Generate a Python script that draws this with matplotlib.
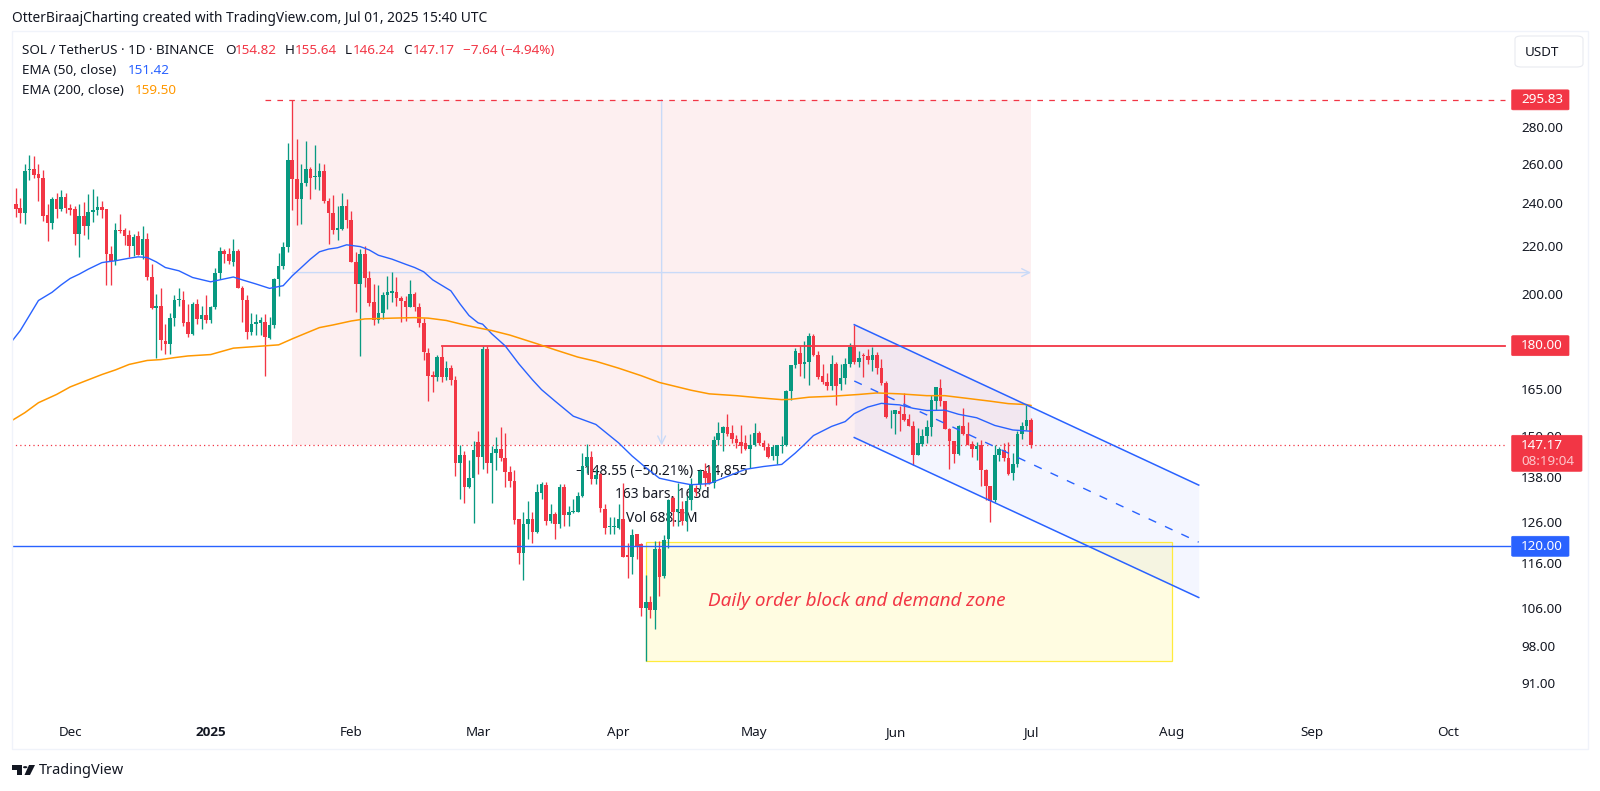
import matplotlib
matplotlib.use('Agg')
import matplotlib.pyplot as plt
from matplotlib.patches import Rectangle, FancyBboxPatch, Polygon, Circle
import numpy as np
import pandas as pd

plt.rcParams['font.family'] = ['Noto Sans', 'DejaVu Sans']

opens = [
    237.4, 239.8, 237.9, 235.4, 256.8, 257.0, 254.9, 252.7, 234.3, 230.6,
    242.0, 237.1, 243.2, 237.6, 237.1, 225.6, 234.0, 229.3, 235.7, 237.0,
    238.1, 237.1, 216.7, 213.7, 227.6, 227.3, 225.0, 220.1, 224.6, 216.1,
    223.2, 206.6, 194.2, 194.9, 181.6, 180.6, 190.4, 197.5, 197.5, 188.7,
    184.4, 195.9, 190.0, 191.6, 189.4, 194.5, 208.4, 218.1, 216.8, 213.3,
    218.1, 202.1, 197.6, 185.2, 188.2, 188.5, 188.7, 182.7, 187.7, 205.9,
    211.3, 219.6, 261.9, 252.3, 242.0, 250.1, 257.3, 253.1, 253.1, 256.4,
    241.0, 235.4, 227.3, 228.0, 238.5, 231.9, 213.2, 203.8, 216.5, 206.3,
    196.5, 189.7, 192.3, 199.4, 200.4, 200.5, 198.2, 196.9, 194.5, 199.7,
    194.8, 188.3, 177.3, 169.5, 168.8, 176.0, 168.8, 172.0, 168.0, 141.9,
    144.4, 135.4, 137.7, 148.2, 143.7, 178.7, 142.1, 144.8, 146.2, 143.4,
    139.5, 137.0, 126.8, 118.4, 125.5, 126.8, 123.4, 133.6, 135.8, 126.3,
    128.1, 125.5, 135.4, 127.8, 128.5, 128.7, 132.9, 141.0, 143.8, 137.4,
    138.8, 129.5, 124.7, 124.8, 124.5, 126.8, 117.8, 117.4, 123.0, 120.5,
    106.0, 107.2, 105.5, 119.4, 113.0, 121.9, 132.3, 128.5, 129.4, 126.3,
    131.9, 134.9, 136.0, 139.8, 139.1, 136.4, 148.7, 150.9, 152.7, 150.9,
    149.2, 148.1, 147.9, 146.2, 147.4, 150.9, 147.9, 146.7, 144.0, 144.0,
    147.1, 147.4, 164.4, 173.0, 177.4, 173.4, 174.0, 183.7, 176.8, 169.2,
    167.2, 165.8, 173.3, 166.7, 168.6, 173.3, 179.6, 174.2, 176.8, 176.3,
    175.0, 176.8, 172.1, 167.0, 156.7, 156.7, 157.7, 156.8, 155.1, 153.1,
    144.4, 147.6, 150.1, 152.6, 161.0, 165.3, 161.0, 152.2, 148.6, 144.7,
    152.9, 150.7, 147.6, 146.2, 147.3, 140.1, 135.5, 131.7, 144.4, 145.9,
    143.5, 139.2, 141.6, 150.6, 153.1, 154.82,
]
highs = [
    240.5, 247.6, 242.7, 259.8, 264.4, 264.0, 259.8, 256.6, 239.5, 243.2,
    245.2, 246.8, 244.9, 239.5, 238.7, 239.5, 240.8, 244.5, 247.1, 243.5,
    241.1, 237.1, 220.2, 230.8, 234.8, 228.5, 227.5, 225.7, 227.0, 229.3,
    226.2, 212.2, 199.8, 202.1, 188.1, 192.3, 199.4, 202.1, 201.1, 195.9,
    196.5, 197.8, 195.2, 199.4, 195.2, 210.5, 219.9, 218.8, 219.1, 223.2,
    218.8, 203.2, 199.4, 192.4, 191.9, 190.9, 191.9, 190.6, 206.2, 217.2,
    222.0, 271.0, 295.83, 273.4, 260.1, 272.1, 258.4, 270.3, 260.5, 260.1,
    242.7, 244.2, 238.7, 244.9, 241.9, 236.3, 217.3, 218.8, 220.2, 209.4,
    203.9, 203.5, 200.8, 207.3, 209.1, 206.6, 198.9, 199.2, 205.5, 200.5,
    196.2, 190.3, 179.1, 170.9, 176.8, 180.0, 174.4, 173.2, 169.2, 147.4,
    145.5, 143.0, 148.4, 151.4, 180.0, 179.7, 146.9, 149.7, 152.7, 150.9,
    141.2, 140.0, 126.8, 128.5, 131.4, 128.5, 136.0, 136.7, 136.7, 130.7,
    128.5, 136.0, 136.0, 130.2, 132.0, 134.0, 145.0, 147.6, 145.5, 140.2,
    139.2, 130.7, 127.2, 127.2, 130.7, 136.3, 120.9, 124.2, 123.0, 120.9,
    113.2, 108.6, 121.3, 121.3, 122.7, 132.1, 132.9, 136.3, 131.6, 132.9,
    137.7, 135.9, 140.2, 142.0, 141.0, 150.1, 154.2, 152.9, 156.9, 153.4,
    150.4, 153.4, 150.4, 150.7, 153.9, 151.4, 148.9, 147.9, 147.4, 147.4,
    149.9, 164.7, 173.0, 179.2, 179.8, 181.6, 184.7, 184.4, 178.0, 173.3,
    170.4, 176.8, 174.1, 173.3, 175.6, 181.0, 187.8, 178.0, 177.4, 178.8,
    179.6, 177.6, 175.2, 167.6, 158.0, 157.9, 159.3, 163.6, 156.9, 154.5,
    152.4, 152.0, 154.9, 162.9, 165.6, 168.4, 161.0, 152.4, 148.6, 153.4,
    158.7, 154.4, 148.4, 148.2, 148.7, 140.3, 135.5, 147.2, 146.7, 147.9,
    148.1, 144.9, 151.4, 154.4, 159.8, 155.64,
]
lows = [
    236.5, 233.6, 230.5, 230.0, 251.5, 252.7, 241.1, 231.6, 222.2, 228.0,
    232.8, 236.3, 235.5, 234.3, 220.5, 215.5, 225.0, 223.2, 231.3, 234.4,
    233.2, 203.5, 203.5, 212.0, 225.9, 220.7, 215.4, 215.8, 216.1, 214.4,
    205.6, 193.9, 175.6, 178.3, 177.1, 176.9, 187.2, 195.2, 187.2, 183.1,
    184.0, 188.1, 186.2, 188.3, 188.3, 193.9, 205.9, 212.9, 212.2, 211.5,
    202.2, 188.7, 182.3, 184.0, 184.0, 184.0, 169.2, 182.3, 186.5, 198.9,
    210.2, 217.7, 237.0, 229.6, 230.0, 248.5, 242.2, 247.3, 246.5, 240.3,
    221.0, 225.4, 222.9, 227.5, 228.5, 213.0, 192.6, 176.3, 202.5, 195.2,
    187.8, 188.5, 190.0, 193.9, 196.5, 195.2, 188.7, 189.3, 194.5, 193.2,
    186.8, 174.7, 161.1, 163.9, 167.5, 167.2, 168.0, 166.4, 138.3, 132.0,
    130.9, 134.9, 125.9, 138.8, 140.2, 139.2, 131.0, 140.0, 142.6, 135.4,
    135.4, 125.5, 115.8, 112.2, 121.7, 120.9, 123.2, 132.0, 125.2, 125.7,
    121.9, 124.4, 125.1, 125.1, 128.3, 128.5, 132.5, 139.2, 136.0, 136.0,
    128.5, 123.0, 123.0, 123.0, 124.2, 117.4, 112.5, 113.5, 117.0, 104.2,
    95.26, 103.8, 101.6, 108.6, 112.5, 119.6, 125.0, 125.0, 125.4, 123.8,
    129.2, 132.8, 134.6, 135.5, 136.0, 134.9, 147.4, 145.4, 150.1, 147.9,
    146.4, 144.9, 145.9, 140.6, 146.9, 147.4, 145.9, 143.5, 143.0, 141.6,
    144.8, 147.1, 161.2, 172.1, 169.4, 168.6, 166.1, 176.4, 168.3, 166.7,
    164.7, 164.5, 159.5, 164.7, 166.7, 172.4, 173.3, 172.4, 169.0, 173.3,
    171.0, 170.0, 166.3, 155.5, 152.4, 150.5, 151.6, 154.5, 152.9, 141.5,
    144.2, 147.0, 147.9, 149.9, 158.2, 159.3, 152.0, 140.3, 142.0, 144.2,
    150.4, 147.4, 143.7, 143.0, 135.6, 131.9, 126.0, 131.2, 142.5, 142.5,
    138.7, 137.1, 140.8, 149.0, 151.9, 146.24,
]
closes = [
    239.8, 237.4, 235.4, 256.4, 257.5, 254.4, 252.5, 234.0, 230.6, 242.2,
    237.4, 243.2, 237.6, 237.0, 225.6, 234.0, 229.3, 236.0, 237.0, 238.2,
    237.0, 216.7, 213.7, 227.3, 227.0, 224.7, 220.1, 224.4, 216.1, 223.2,
    206.6, 194.2, 194.9, 181.9, 180.6, 190.4, 197.4, 197.8, 188.5, 184.4,
    195.9, 190.0, 191.6, 189.4, 194.5, 208.4, 218.1, 216.8, 213.7, 218.1,
    202.2, 197.5, 185.2, 188.0, 188.7, 189.6, 183.0, 187.7, 205.9, 211.3,
    219.6, 261.9, 252.3, 242.0, 250.1, 257.3, 252.8, 253.8, 256.2, 241.0,
    235.3, 227.3, 228.2, 238.5, 232.0, 213.2, 203.8, 216.5, 206.5, 196.3,
    189.7, 192.3, 199.4, 200.6, 201.1, 198.4, 196.9, 194.5, 199.7, 194.8,
    188.3, 177.7, 169.2, 168.9, 176.0, 168.8, 172.0, 168.0, 141.9, 144.4,
    135.4, 137.7, 145.7, 143.7, 178.7, 142.1, 144.8, 146.2, 143.4, 139.5,
    136.9, 126.5, 118.4, 125.5, 126.8, 123.4, 133.8, 136.0, 126.3, 128.1,
    125.5, 135.4, 127.8, 128.5, 129.0, 132.9, 141.0, 143.8, 137.4, 138.5,
    129.6, 124.6, 125.1, 125.1, 126.8, 117.5, 117.5, 122.8, 120.1, 106.0,
    107.2, 105.5, 119.4, 112.7, 121.6, 131.9, 128.5, 129.4, 126.3, 131.5,
    136.2, 134.0, 139.8, 137.7, 136.4, 148.7, 150.9, 152.7, 150.7, 149.2,
    147.9, 147.1, 146.2, 147.4, 150.9, 147.9, 146.7, 143.8, 146.7, 147.2,
    147.4, 164.4, 173.0, 178.0, 173.4, 174.2, 183.7, 176.8, 169.0, 167.2,
    165.8, 173.3, 165.8, 168.6, 173.3, 179.6, 174.2, 175.6, 176.3, 175.0,
    176.8, 172.1, 167.0, 155.9, 156.9, 157.9, 156.9, 155.0, 153.1, 144.4,
    147.9, 150.1, 152.6, 161.2, 165.5, 160.9, 152.2, 148.6, 144.7, 153.1,
    150.7, 147.4, 146.2, 147.1, 140.1, 135.5, 131.5, 144.2, 146.2, 143.5,
    139.0, 141.6, 150.6, 153.1, 154.9, 147.17,
]

# bar number 1 is 2024-11-18, one bar per day
first_day = pd.Timestamp('2024-11-18')

ema50_bars = [1, 3, 5, 7, 10, 12, 14, 16, 18, 21, 22, 24, 27, 29, 31, 33, 35, 38, 41, 45, 47, 50, 52, 55, 58,
              61, 63, 65, 67, 69, 71, 73, 75, 78, 80, 82, 85, 88, 90, 92, 94, 98, 100, 102, 104, 105, 107, 110,
              113, 116, 118, 121, 125, 130, 135, 138, 141, 144, 148, 151, 155, 158, 163, 167, 171, 174, 176, 178,
              182, 185, 187, 190, 193, 195, 197, 200, 203, 207, 210, 214, 218, 222, 226]
ema50_vals = [181.3, 185.6, 191.3, 197.2, 200.5, 203.5, 206.2, 208.0, 210.1, 212.9, 213.2, 213.7, 214.8, 215.4,
              215.1, 213.2, 210.8, 209.4, 206.6, 204.8, 205.6, 206.8, 205.6, 203.9, 202.1, 203.2, 207.3, 210.8,
              214.4, 217.6, 218.8, 219.4, 220.7, 219.9, 218.4, 216.1, 214.4, 212.2, 210.8, 209.0, 205.6, 201.1,
              195.9, 191.3, 188.5, 188.0, 184.4, 179.9, 173.5, 168.0, 164.7, 160.9, 156.1, 153.5, 147.9, 144.0,
              140.7, 137.7, 136.6, 135.9, 136.2, 137.7, 140.2, 141.0, 141.6, 144.9, 147.4, 150.1, 152.9, 154.4,
              156.9, 159.0, 160.2, 159.9, 159.7, 158.6, 157.9, 158.0, 156.7, 155.6, 153.2, 151.8, 151.42]

ema200_bars = [1, 4, 7, 11, 14, 17, 21, 24, 27, 31, 34, 37, 40, 45, 50, 55, 60, 63, 65, 69, 72, 76, 79, 85, 90,
               93, 97, 101, 104, 107, 111, 117, 121, 126, 130, 135, 140, 144, 151, 155, 161, 166, 171, 173, 177,
               182, 188, 192, 197, 203, 207, 212, 217, 221, 225, 226]
ema200_vals = [154.6, 157.2, 160.4, 163.1, 165.6, 167.4, 169.8, 171.4, 173.3, 174.7, 175.0, 175.7, 176.3, 176.8,
               179.1, 179.7, 180.3, 182.5, 183.9, 186.7, 187.7, 189.2, 190.0, 190.3, 190.5, 190.3, 189.4, 187.7,
               186.6, 185.6, 183.9, 180.7, 178.5, 175.9, 174.4, 172.0, 169.4, 167.1, 164.5, 163.3, 162.7, 162.0,
               161.4, 161.5, 162.2, 162.5, 163.1, 163.6, 163.3, 162.7, 162.7, 161.8, 160.9, 160.1, 159.8, 159.5]

price_ticks = [280, 260, 240, 220, 200, 165, 150, 138, 126, 116, 106, 98, 91]
month_days = ['2024-12-01', '2025-01-01', '2025-02-01', '2025-03-01', '2025-04-01', '2025-05-01',
              '2025-06-01', '2025-07-01', '2025-08-01', '2025-09-01', '2025-10-01']
month_labels = ['Dec', '2025', 'Feb', 'Mar', 'Apr', 'May', 'Jun', 'Jul', 'Aug', 'Sep', 'Oct']

peak_price = 295.83
last_price = 147.17
resistance = 180.00
support = 120.00
peak_bar = 63
last_bar = 226
zone_low = 95.26
zone_high = 121.0
zone_left, zone_right = 141, 257
channel_left, channel_right = 187, 263
channel_top = (187.8, 135.8)
channel_mid = (167.6, 121.0)
channel_bottom = (149.5, 108.2)

UP = '#089981'
DOWN = '#f23645'
BLUE = '#2962ff'
ORANGE = '#ff9800'
INK = '#131722'

W, H = 1600, 791


def fx(px):
    return px / W


def fy(py):
    return 1 - py / H


def bar_of(day):
    return (pd.Timestamp(day) - first_day).days + 1


fig = plt.figure(figsize=(16, 7.91), dpi=100, facecolor='white')

# pane frame around chart and scales
fig.add_artist(Rectangle((fx(11.7), fy(749)), fx(1588 - 11.7), (749 - 31) / H, transform=fig.transFigure,
                         fill=False, edgecolor='#f0f3fa', linewidth=1))

ax = fig.add_axes([fx(11.7), fy(721), fx(1511 - 11.7), (721 - 31) / H])
ax.set_yscale('log')
ax.set_xlim(1.1, 331.9)
ax.set_ylim(84.3, 340.0)
for side in ax.spines.values():
    side.set_visible(False)

ax.yaxis.tick_right()
ax.set_yticks(price_ticks, labels=[f'{t:.2f}' for t in price_ticks])
ax.minorticks_off()
ax.tick_params(axis='y', length=0, pad=7.2, labelsize=9.7, labelcolor=INK)
ax.set_xticks([bar_of(d) for d in month_days], labels=month_labels)
ax.tick_params(axis='x', length=0, pad=3.5, labelsize=9.7, labelcolor=INK)
# Noto Sans has no bold here, the year label needs a family that does
year_label = ax.xaxis.get_major_ticks()[1].label1
year_label.set_fontfamily('Open Sans')
year_label.set_fontweight('bold')

# measure box
ax.add_patch(Rectangle((peak_bar, last_price), last_bar - peak_bar, peak_price - last_price,
                       facecolor=DOWN, alpha=0.08, edgecolor='none', zorder=1))
mid_bar = (peak_bar + last_bar) / 2
mid_price = np.sqrt(peak_price * last_price)
arrow = dict(arrowstyle='->', color='#c9daf8', lw=1, shrinkA=0, shrinkB=0, mutation_scale=14)
ax.annotate('', xy=(mid_bar, last_price), xytext=(mid_bar, peak_price), arrowprops=arrow, zorder=1.5)
ax.annotate('', xy=(last_bar, mid_price), xytext=(peak_bar, mid_price), arrowprops=arrow, zorder=1.5)
ax.plot([57, 330.5], [peak_price, peak_price], color=DOWN, lw=0.9, ls=(0, (4.5, 5)), zorder=2)

# channel
xs = [channel_left, channel_right]
ax.fill_between(xs, channel_bottom, channel_top, color=BLUE, alpha=0.05, linewidth=0, zorder=1.2)

# demand zone
ax.add_patch(Rectangle((zone_left, zone_low), zone_right - zone_left, zone_high - zone_low,
                       facecolor='#ffeb3b', alpha=0.15, edgecolor='none', zorder=1.3))
ax.add_patch(Rectangle((zone_left, zone_low), zone_right - zone_left, zone_high - zone_low,
                       fill=False, edgecolor='#ffeb3b', lw=0.9, zorder=1.4))

# measure labels sit under the candles
for label, py in [('\u2212148.55 (\u221250.21%) \u221214,855', 472), ('163 bars, 163d', 495), ('Vol 688.7M', 519)]:
    ax.text(fx(662), fy(py), label, ha='center', va='center', color=INK, fontsize=9.9, zorder=2.8,
            transform=fig.transFigure)

# candles
bars = np.arange(1, len(closes) + 1)
op = np.array(opens)
hi = np.array(highs)
lo = np.array(lows)
cl = np.array(closes)
colors = [UP if c >= o else DOWN for o, c in zip(op, cl)]
ax.vlines(bars, lo, hi, colors=colors, linewidth=0.95, zorder=3)
tops = np.maximum(op, cl)
bottoms = np.minimum(op, cl)
ax.bar(bars, tops - bottoms, bottom=bottoms, width=0.8, color=colors, linewidth=0, zorder=3.2)

# levels
ax.plot([96, 330.5], [resistance, resistance], color=DOWN, lw=1.3, zorder=4)
ax.plot([1, 331.9], [support, support], color=BLUE, lw=1.0, zorder=4)
ax.plot([1, 330.5], [last_price, last_price], color=DOWN, lw=0.9, ls=(0, (1, 2.5)), zorder=2.5)

# moving averages
ax.plot(ema50_bars, ema50_vals, color=BLUE, lw=1.0, zorder=4.5)
ax.plot(ema200_bars, ema200_vals, color=ORANGE, lw=1.1, zorder=4.5)

# channel lines
ax.plot(xs, channel_top, color=BLUE, lw=1.1, zorder=5)
ax.plot(xs, channel_bottom, color=BLUE, lw=1.1, zorder=5)
ax.plot(xs, channel_mid, color=BLUE, lw=1.0, ls=(0, (6, 7)), zorder=5)

fig.text(fx(857), fy(601.5), 'Daily order block and demand zone', color=DOWN, fontsize=13.6, style='italic',
         ha='center', va='center', zorder=6)

# price tags on the scale
fig.canvas.draw()


def price_y(price):
    return H - ax.transData.transform((1, price))[1]


def tag(price, color, left=1511.7, right=1569, half=10):
    py = price_y(price)
    fig.add_artist(FancyBboxPatch((fx(left), fy(py + half)), fx(right - left), 2 * half / H,
                                  boxstyle='round,pad=0,rounding_size=0.001', transform=fig.transFigure,
                                  facecolor=color, edgecolor=color, linewidth=0.5, zorder=7))
    fig.text(fx(1521), fy(py), f'{price:.2f}', color='white', fontsize=9.7, ha='left', va='center', zorder=8)


tag(peak_price, DOWN)
tag(resistance, DOWN)
tag(support, BLUE)

py = price_y(last_price)
fig.add_artist(FancyBboxPatch((fx(1511.7), fy(py + 26)), fx(1582 - 1511.7), 36 / H,
                              boxstyle='round,pad=0,rounding_size=0.001', transform=fig.transFigure,
                              facecolor=DOWN, edgecolor=DOWN, linewidth=0.5, zorder=7))
fig.text(fx(1521), fy(py), f'{last_price:.2f}', color='white', fontsize=9.7, ha='left', va='center', zorder=8)
fig.text(fx(1521), fy(py + 16.5), '08:19:04', color='#fcc7cc', fontsize=9.7, ha='left', va='center', zorder=8)

# USDT button
fig.add_artist(FancyBboxPatch((fx(1515), fy(67)), fx(68), 31 / H, boxstyle='round,pad=0,rounding_size=0.004',
                              transform=fig.transFigure, facecolor='white', edgecolor='#e8eaf0', linewidth=0.8,
                              zorder=7))
fig.text(fx(1542), fy(52), 'USDT', color=INK, fontsize=9.7, ha='center', va='center', zorder=8)

# header and legend
fig.text(fx(12), fy(18), 'OtterBiraajCharting created with TradingView.com, Jul 01, 2025 15:40 UTC',
         color=INK, fontsize=9.9, ha='left', va='center')
for label, px, col in [('SOL / TetherUS \u00b7 1D \u00b7 BINANCE', 21.5, INK), ('O', 225, INK), ('154.82', 235, DOWN),
                       ('H', 285, INK), ('155.64', 295, DOWN), ('L', 345, INK), ('146.24', 353, DOWN),
                       ('C', 403, INK), ('147.17', 413, DOWN), ('\u22127.64 (\u22124.94%)', 463, DOWN)]:
    fig.text(fx(px), fy(50), label, color=col, fontsize=9.7, ha='left', va='center')
fig.text(fx(21.5), fy(70), 'EMA (50, close)', color=INK, fontsize=9.7, ha='left', va='center')
fig.text(fx(128), fy(70), '151.42', color=BLUE, fontsize=9.7, ha='left', va='center')
fig.text(fx(21.5), fy(90), 'EMA (200, close)', color=INK, fontsize=9.7, ha='left', va='center')
fig.text(fx(135), fy(90), '159.50', color=ORANGE, fontsize=9.7, ha='left', va='center')

# logo
logo = '#131722'
fig.add_artist(Polygon([(fx(12), fy(765)), (fx(22), fy(765)), (fx(22), fy(775)), (fx(17), fy(775)), (fx(17), fy(769.5)),
                        (fx(12), fy(769.5))], closed=True, transform=fig.transFigure, facecolor=logo, edgecolor='none'))
fig.add_artist(Circle((fx(25.2), fy(767.2)), 2.2 / W, transform=fig.transFigure, facecolor=logo, edgecolor='none'))
fig.add_artist(Polygon([(fx(29), fy(765)), (fx(35), fy(765)), (fx(30), fy(775)), (fx(24.5), fy(775))], closed=True,
                       transform=fig.transFigure, facecolor=logo, edgecolor='none'))
fig.text(fx(39), fy(770), 'TradingView', color=INK, fontsize=10.5, ha='left', va='center')

fig.savefig('out.png', dpi=100)
